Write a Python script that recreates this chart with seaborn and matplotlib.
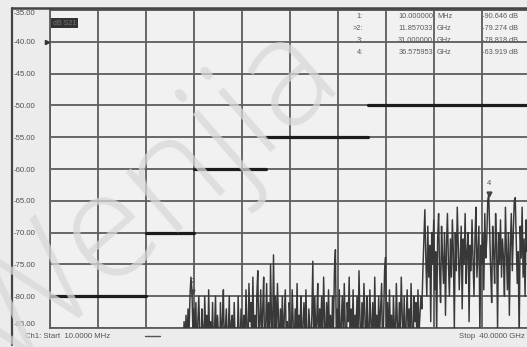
import numpy as np
import pandas as pd
import matplotlib
matplotlib.use("Agg")
import matplotlib.pyplot as plt
import matplotlib.transforms as mtrans
from matplotlib.lines import Line2D
import seaborn as sns

# ---------------- data ----------------
y_ticks = [-35, -40, -45, -50, -55, -60, -65, -70, -75, -80, -85]
y_labels = ["-35.00", "-40.00", "-45.00", "-50.00", "-55.00", "-60.00",
            "-65.00", "-70.00", "-75.00", "-80.00", "-85.00"]
x_grid_ghz = [0, 4, 8, 12, 16, 20, 24, 28, 32, 36, 40]

limit_start_ghz = [0, 8, 12, 18, 26.5]
limit_stop_ghz = [8, 12, 18, 26.5, 40]
limit_level_db = [-80, -70, -60, -55, -50]

marker_ids = ["1", "2", "3", "4"]
marker_freq_ghz = [0.01, 11.857, 31.0, 36.5759]
marker_db = [-90.646, -79.274, -78.818, -63.919]
marker_freq_txt = ["10.000000", "11.857033", "31.000000", "36.575953"]
marker_unit_txt = ["MHz", "GHz", "GHz", "GHz"]
marker_val_txt = ["-90.646 dB", "-79.274 dB", "-78.818 dB", "-63.919 dB"]

trace_db = [
    # 10.6 - 12 GHz
    -98, -94, -91, -88, -90, -86, -89, -84, -87, -83,
    -88, -82, -86, -80, -77, -79, -86, -82,
    # 12 - 16.2 GHz
    -88, -81, -90, -84, -80, -87, -92, -82, -85, -89,
    -80, -86, -83, -91, -79, -87, -84, -88, -81, -90,
    -85, -80, -89, -83, -86, -92, -81, -87, -84, -79,
    -90, -85, -82, -88, -86, -80, -91, -84, -83, -89,
    -81, -87, -85, -90, -80, -86, -88, -82, -91, -84,
    -83,
    # 16.2 - 19.2 GHz
    -88, -79, -85, -90, -78, -84, -81, -89, -77, -86,
    -83, -91, -80, -76, -87, -84, -79, -88, -82, -77,
    -90, -85, -78, -86, -81, -89, -75, -84, -87, -73.5,
    -85, -80, -88, -78, -83, -90, -82,
    # 19.2 - 30.9 GHz
    -86, -80, -89, -83, -79, -87, -84, -91, -81, -85,
    -88, -79, -84, -90, -82, -86, -78, -89, -83, -85,
    -80, -92, -84, -81, -87, -79, -86, -90, -82, -85,
    -88, -83, -74.5, -89, -80, -86, -84, -78, -91, -82,
    -85, -80, -88, -77, -84, -90, -81, -86, -79, -87,
    -83, -89, -80, -85, -76, -72.7, -88, -82, -86, -79,
    -91, -84, -80, -87, -78, -85, -89, -81, -84, -77,
    -88, -82, -86, -79, -90, -83, -85, -80, -87, -76,
    -84, -89, -81, -86, -78, -83, -91, -80, -85, -88,
    -79, -84, -87, -81, -90, -77, -85, -83, -88, -80,
    -86, -82, -78, -89, -84, -76, -73.9, -85, -81, -88,
    -79, -86, -83, -90, -80, -85, -87, -78, -84, -89,
    -81, -86, -77, -83, -88, -80, -91, -84, -79, -86,
    -82, -87, -78, -85, -89, -80, -84, -81, -88, -79,
    -86, -83, -80,
    # 30.9 - 40 GHz
    -82, -76, -71, -66.4, -74, -80, -69, -77, -72, -84,
    -70, -75, -68, -79, -73, -86, -71, -67, -76, -81,
    -69, -74, -78, -70, -83, -72, -67, -75, -80, -71,
    -77, -68, -73, -85, -70, -76, -66, -72, -79, -74,
    -69, -82, -71, -75, -67, -78, -73, -70, -84, -72,
    -76, -68, -74, -80, -71, -66, -77, -73, -69, -86,
    -72, -75, -70, -79, -67, -74, -71, -65, -63.9, -70,
    -76, -81, -69, -73, -78, -67, -72, -85, -70, -75,
    -68, -77, -71, -74, -80, -66, -73, -79, -70, -83,
    -72, -67, -76, -70, -65, -64.5, -71, -78, -73, -87,
    -69, -74, -66, -77, -71, -80, -68, -73, -65, -75,
    -70,
]
trace_start_ghz, trace_stop_ghz = 10.6, 40.0
trace_freq = np.linspace(trace_start_ghz, trace_stop_ghz, len(trace_db))

# ---------------- style ----------------
sns.set_style("white")
plt.rcParams["font.family"] = ["Liberation Sans", "DejaVu Sans"]

W, H = 527, 347
fig = plt.figure(figsize=(W / 100, H / 100), dpi=100)
fig.patch.set_facecolor("#ececec")
ax = fig.add_axes([50 / W, 19 / H, 480 / W, 318 / H])
ax.set_facecolor("#f1f1f1")

grid_c = "#5c5c5c"
ax.set_xlim(0, 40)
ax.set_ylim(-85, -35)
ax.set_xticks(x_grid_ghz)
ax.set_xticklabels([])
ax.tick_params(axis="x", length=0)
ax.set_yticks(y_ticks)
ax.set_yticklabels(y_labels, fontsize=5.6, color="#505050")
ax.tick_params(axis="y", length=0, pad=26)
for lab in ax.get_yticklabels():
    lab.set_horizontalalignment("left")
ylabs = ax.get_yticklabels()
ylabs[0].set_verticalalignment("top")
ylabs[-1].set_verticalalignment("bottom")
ax.grid(True, color=grid_c, lw=1.3)
for s in ax.spines.values():
    s.set_color(grid_c)
    s.set_linewidth(1.3)

# trace
tr = pd.DataFrame({"f": trace_freq, "db": trace_db})
sns.lineplot(data=tr, x="f", y="db", ax=ax, color="#383838", lw=1.05,
             estimator=None, sort=False, zorder=3)

# limit lines
rows = []
for i, (a, b, lv) in enumerate(zip(limit_start_ghz, limit_stop_ghz, limit_level_db)):
    rows.append({"seg": i, "f": a, "db": lv})
    rows.append({"seg": i, "f": b, "db": lv})
lim = pd.DataFrame(rows)
sns.lineplot(data=lim, x="f", y="db", units="seg", estimator=None, ax=ax,
             color="#1c1c1c", lw=2.3, zorder=4, sort=False)
ax.set_xlabel("")
ax.set_ylabel("")

# markers
for mid, mf, md in zip(marker_ids, marker_freq_ghz, marker_db):
    if md < -85 or mid == "3":
        continue
    ax.plot([mf], [md], marker="v", ms=3.5, color="#444444", zorder=5, ls="none")
    ax.annotate(mid, (mf, md), xytext=(0, 5), textcoords="offset points",
                ha="center", va="bottom", fontsize=5.5, color="#555555", zorder=5)

# reference-level pointer
tr_ref = mtrans.blended_transform_factory(ax.transAxes, ax.transData)
ax.plot([-0.006], [-40], marker=">", ms=3, color="#333333", transform=tr_ref,
        clip_on=False, zorder=6)

# trace label box
ax.text(0.006, 0.97, "dB S21", transform=ax.transAxes, fontsize=5, color="#777777",
        ha="left", va="top", zorder=6,
        bbox=dict(boxstyle="square,pad=0.25", fc="#333333", ec="none"))

# marker table
for k, (mid, ft, ut, vt) in enumerate(zip(marker_ids, marker_freq_txt,
                                          marker_unit_txt, marker_val_txt)):
    y = 1 - (6 + 12 * k) / 318
    tag = (">" if mid == "2" else "") + mid + ":"
    kw = dict(transform=ax.transAxes, fontsize=5.3, color="#5a5a5a", va="center", zorder=6)
    ax.text((363 - 50) / 480, y, tag, ha="right", **kw)
    ax.text((433 - 50) / 480, y, ft, ha="right", **kw)
    ax.text((437 - 50) / 480, y, ut, ha="left", **kw)
    ax.text((482 - 50) / 480, y, vt, ha="left", **kw)

# frame lines outside axes
fig.add_artist(Line2D([12 / W, 12 / W], [2 / H, 339 / H], transform=fig.transFigure,
                      color="#444444", lw=1.6))
fig.add_artist(Line2D([12 / W, 1], [339 / H, 339 / H], transform=fig.transFigure,
                      color="#444444", lw=1.8))

# status bar
fig.text(25 / W, 10 / H, "Ch1: Start  10.0000 MHz", fontsize=5.6, color="#555555",
         ha="left", va="center")
fig.add_artist(Line2D([145 / W, 160 / W], [11 / H, 11 / H], transform=fig.transFigure,
                      color="#555555", lw=1.0))
fig.text(525 / W, 10 / H, "Stop  40.0000 GHz", fontsize=5.6, color="#555555",
         ha="right", va="center")

# watermark
fig.text(0.285, 0.42, "Wenjia", rotation=41, fontsize=108, color="#d8d8d8", alpha=0.75,
         ha="center", va="center", family=["Open Sans", "Roboto", "DejaVu Sans"],
         fontweight=300, zorder=20)

fig.savefig("out.png", dpi=100, facecolor=fig.get_facecolor())
